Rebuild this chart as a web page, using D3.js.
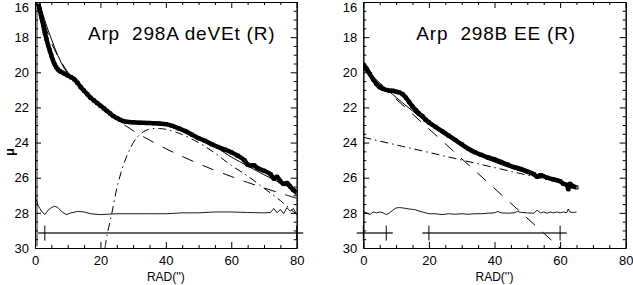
<!DOCTYPE html>
<head>
  <meta charset="utf-8">
  <script src="https://d3js.org/d3.v7.min.js"></script>
  <style>
    body { margin:0; background:#fff; }
    svg { font-family: "Liberation Sans", Arial, sans-serif; }
  </style>
</head>
<body>
  <svg width="633" height="285"></svg>
  <script>
    // ---- data (r in arcsec, mu in mag/arcsec^2) ----
    var titles = ['Arp  298A deVEt (R)', 'Arp  298B EE (R)'];
    var xTicks = [0, 20, 40, 60, 80];
    var yTicks = [16, 18, 20, 22, 24, 26, 28, 30];

    // Arp 298A
    var leftData = [[1,16.1],[1.5,16.5],[2,16.9],[2.5,17.3],[3,17.75],[3.5,18.1],[4,18.45],[4.5,18.75],[5,19.05],[5.5,19.32],[6,19.55],[6.5,19.72],[7,19.84],[7.5,19.92],[8,19.98],[9,20.08],[10,20.18],[11,20.28],[12,20.4],[13,20.6],[14,20.85],[15,21.05],[16,21.25],[17,21.45],[18,21.6],[19,21.75],[20,21.9],[21,22.05],[22,22.2],[23,22.35],[24,22.5],[25,22.6],[26,22.7],[27,22.78],[28,22.82],[30,22.85],[32,22.87],[34,22.88],[36,22.9],[38,22.92],[40,22.95],[42,23.05],[44,23.2],[46,23.35],[48,23.55],[50,23.75],[52,23.9],[54,24.1],[56,24.25],[58,24.4],[60,24.55],[62,24.75],[64,25.0],[65,25.25],[66,25.3],[67,25.3],[68,25.45],[70,25.6],[72,25.8],[73,26.05],[74,25.95],[75,26.2],[76,26.35],[77,26.3],[78,26.5],[79,26.7],[80,26.85]];
    var leftTotal = [[1.2,16.0],[2,16.45],[3,17.05],[4,17.6],[5,18.1],[6,18.6],[7,19.05],[8,19.45],[9,19.8],[10,20.05],[12,20.5],[15,21.1],[20,21.95],[25,22.63],[30,22.89],[35,22.8],[40,22.9],[45,23.2],[50,23.69],[55,24.23],[60,24.82],[65,25.33],[70,25.83],[75,26.3],[80,26.75]];
    var leftBulge = [[1.5,16.0],[2,16.5],[3,17.25],[4,17.83],[5,18.31],[6,18.72],[8,19.41],[10,19.99],[12,20.48],[15,21.11],[20,21.98],[25,22.69],[30,23.32],[35,23.86],[40,24.35],[45,24.79],[50,25.2],[55,25.58],[60,25.93],[65,26.27],[70,26.58],[75,26.88],[80,27.17]];
    var leftDisk = [[21.4,30.0],[22,29.3],[23.4,28.1],[25.4,26.3],[28,24.8],[31,23.75],[34,23.3],[38,23.2],[43,23.4],[50,24.0],[55,24.6],[60,25.3],[65,25.9],[70,26.6],[75,27.3],[80,28.1]];
    var leftResid = [[0.3,27.2],[1,27.6],[2,27.9],[3,28.1],[4,27.85],[5,27.7],[6,27.62],[7,27.7],[8,27.9],[9.5,28.1],[11,28.0],[13,27.92],[15,27.95],[17,28.05],[20,28.1],[25,28.05],[30,28.05],[35,28.05],[40,28.05],[45,28.0],[50,28.0],[55,27.95],[60,27.95],[65,27.98],[70,28.0],[72,27.98],[73,27.75],[74,28.0],[75,27.8],[76,28.05],[77,27.7],[78,27.9],[79,27.75],[80,28.1]];
    var leftRanges = [[3, 80]];

    // Arp 298B
    var rightData = [[0,19.55],[1,19.8],[2,20.1],[3,20.4],[4,20.65],[5,20.85],[6,20.95],[7,21.0],[8,21.05],[9,21.05],[10,21.1],[11,21.15],[12,21.25],[13,21.45],[14,21.7],[15,21.95],[16,22.15],[17,22.35],[18,22.5],[19,22.7],[20,22.85],[22,23.1],[24,23.35],[26,23.6],[28,23.85],[30,24.1],[32,24.35],[34,24.55],[36,24.7],[38,24.85],[40,24.95],[42,25.1],[44,25.25],[46,25.4],[48,25.5],[50,25.65],[52,25.8],[53,25.95],[54,25.85],[56,26.0],[58,26.1],[60,26.2],[61,26.35],[62,26.4],[62.5,26.65],[63,26.35],[64,26.5],[65,26.55]];
    var rightTotal = [[0,19.75],[5,20.6],[10,21.43],[15,22.2],[20,22.94],[25,23.6],[30,24.18],[35,24.7],[40,25.11],[45,25.45],[50,25.74],[55,26.0],[60,26.24],[65,26.48]];
    var rightInner = [[0,19.83],[60,30.0]];
    var rightOuter = [[0,23.7],[65,26.5]];
    var rightResid = [[0,27.92],[1,28.0],[2,28.1],[3,27.95],[4,28.0],[5,27.95],[6,28.0],[7,28.1],[8,28.0],[9,27.85],[10,27.72],[11,27.7],[12,27.72],[13,27.75],[14,27.78],[15,27.8],[16,27.83],[17,27.9],[18,27.95],[19,28.0],[20,28.05],[22,28.05],[24,28.1],[26,28.05],[28,28.08],[30,28.05],[32,28.08],[34,28.05],[36,28.05],[38,28.02],[40,28.0],[41,27.92],[42,28.0],[44,28.02],[46,28.0],[47,27.92],[48,27.97],[50,28.0],[52,28.02],[53,27.85],[54,28.0],[55,27.95],[56,28.02],[57,27.95],[58,28.0],[59,27.95],[60,28.0],[61,27.95],[62,28.0],[62.5,27.78],[63,27.95],[64,27.98],[65,27.95]];
    var rightRanges = [[0, 7], [20, 60]];

    var barLevel = 29.15;

    var svg = d3.select('svg');
    var y = d3.scaleLinear().domain([16, 30]).range([2, 248]);

    var panels = [
      {left: 35, right: 296.7, title: titles[0], data: leftData, total: leftTotal,
       dashed: leftBulge, dashdot: leftDisk, resid: leftResid, ranges: leftRanges},
      {left: 363.3, right: 625.7, title: titles[1], data: rightData, total: rightTotal,
       dashed: rightInner, dashdot: rightOuter, resid: rightResid, ranges: rightRanges}
    ];

    panels.forEach(function(p, i) {
      var x = d3.scaleLinear().domain([0, 80]).range([p.left, p.right]);
      var g = svg.append('g');

      var clipId = 'clip' + i;
      svg.append('clipPath').attr('id', clipId)
        .append('rect').attr('x', p.left).attr('y', y(16))
        .attr('width', p.right - p.left).attr('height', y(30) - y(16));

      if (i == 0) {
        // greyish thick left edge seen in the original
        g.append('line').attr('x1', x(0) + 1.5).attr('x2', x(0) + 1.5)
          .attr('y1', y(16)).attr('y2', y(29.9))
          .attr('stroke', '#8a8a8a').attr('stroke-width', 3);
      }

      var line = d3.line().x(d => x(d[0])).y(d => y(d[1]));
      var smooth = d3.line().x(d => x(d[0])).y(d => y(d[1])).curve(d3.curveCatmullRom);

      var plot = g.append('g').attr('clip-path', 'url(#' + clipId + ')');

      // model components
      plot.append('path').datum(p.dashed).attr('d', smooth)
        .attr('fill', 'none').attr('stroke', '#000').attr('stroke-width', 1)
        .attr('stroke-dasharray', '12,10');
      plot.append('path').datum(p.dashdot).attr('d', smooth)
        .attr('fill', 'none').attr('stroke', '#000').attr('stroke-width', 1)
        .attr('stroke-dasharray', '8,4,1.5,4');

      // observed profile: thick band of small squares
      plot.append('path').datum(p.data).attr('d', smooth)
        .attr('fill', 'none').attr('stroke', '#000').attr('stroke-width', 4.5)
        .attr('stroke-linejoin', 'round');
      plot.selectAll('rect.pt').data(p.data).enter().append('rect')
        .attr('class', 'pt')
        .attr('x', d => x(d[0]) - 1.5).attr('y', d => y(d[1]) - 1.5)
        .attr('width', 3).attr('height', 3)
        .attr('fill', 'none').attr('stroke', '#000').attr('stroke-width', 1);

      // total model
      plot.append('path').datum(p.total).attr('d', smooth)
        .attr('fill', 'none').attr('stroke', '#000').attr('stroke-width', 1);

      // residuals
      plot.append('path').datum(p.resid).attr('d', line)
        .attr('fill', 'none').attr('stroke', '#000').attr('stroke-width', 0.9);

      // fit range bars
      p.ranges.forEach(function(rg) {
        g.append('line')
          .attr('x1', x(rg[0] - 2)).attr('x2', x(rg[1] + 2))
          .attr('y1', y(barLevel)).attr('y2', y(barLevel))
          .attr('stroke', '#333').attr('stroke-width', 1.5);
        rg.forEach(function(v) {
          g.append('line')
            .attr('x1', x(v)).attr('x2', x(v))
            .attr('y1', y(barLevel) - 7.5).attr('y2', y(barLevel) + 7.5)
            .attr('stroke', '#000').attr('stroke-width', 1);
        });
      });

      // axes, ticks pointing inward
      var minorX = d3.range(0, 81, 5).filter(v => v % 20);
      var minorY = d3.range(16, 30.01, 0.5).filter(v => v % 2);

      function addAxis(axis, tr, vals, size, labels, pad) {
        var a = axis.tickValues(vals).tickSizeInner(-size).tickSizeOuter(0).tickPadding(pad || 3);
        if (!labels) a.tickFormat('');
        var ag = g.append('g').attr('transform', tr).call(a);
        ag.selectAll('text').attr('font-size', 13).attr('fill', '#000')
          .attr('font-family', '"Liberation Sans", Arial, sans-serif');
        ag.select('.domain').attr('stroke', '#000');
        ag.selectAll('line').attr('stroke', '#000');
        return ag;
      }
      addAxis(d3.axisBottom(x), 'translate(0,' + y(30) + ')', xTicks, 6, true, 8);
      addAxis(d3.axisBottom(x), 'translate(0,' + y(30) + ')', minorX, 3, false);
      addAxis(d3.axisTop(x), 'translate(0,' + y(16) + ')', xTicks, 6, false);
      addAxis(d3.axisTop(x), 'translate(0,' + y(16) + ')', minorX, 3, false);
      var yl = addAxis(d3.axisLeft(y), 'translate(' + p.left + ',0)', yTicks, 6, true, 6);
      // keep the top label inside the picture
      yl.selectAll('.tick').filter(d => d == 16).select('text').attr('dy', '0.75em');
      addAxis(d3.axisLeft(y), 'translate(' + p.left + ',0)', minorY, 3, false);
      addAxis(d3.axisRight(y), 'translate(' + p.right + ',0)', yTicks, 6, false);
      addAxis(d3.axisRight(y), 'translate(' + p.right + ',0)', minorY, 3, false);

      // title and x label
      g.append('text').attr('x', p.left + 53).attr('y', 40)
        .attr('font-size', 19).attr('letter-spacing', 0.8).attr('xml:space', 'preserve')
        .style('white-space', 'pre').text(p.title);
      g.append('text').attr('x', (p.left + p.right) / 2).attr('y', 281)
        .attr('text-anchor', 'middle').attr('font-size', 12).text("RAD('')");
    });

    // y label
    svg.append('text').attr('transform', 'translate(14,152) rotate(-90)')
      .attr('text-anchor', 'middle').attr('font-size', 13).attr('font-weight', 'bold')
      .text('\u03bc');
  </script>
</body>
